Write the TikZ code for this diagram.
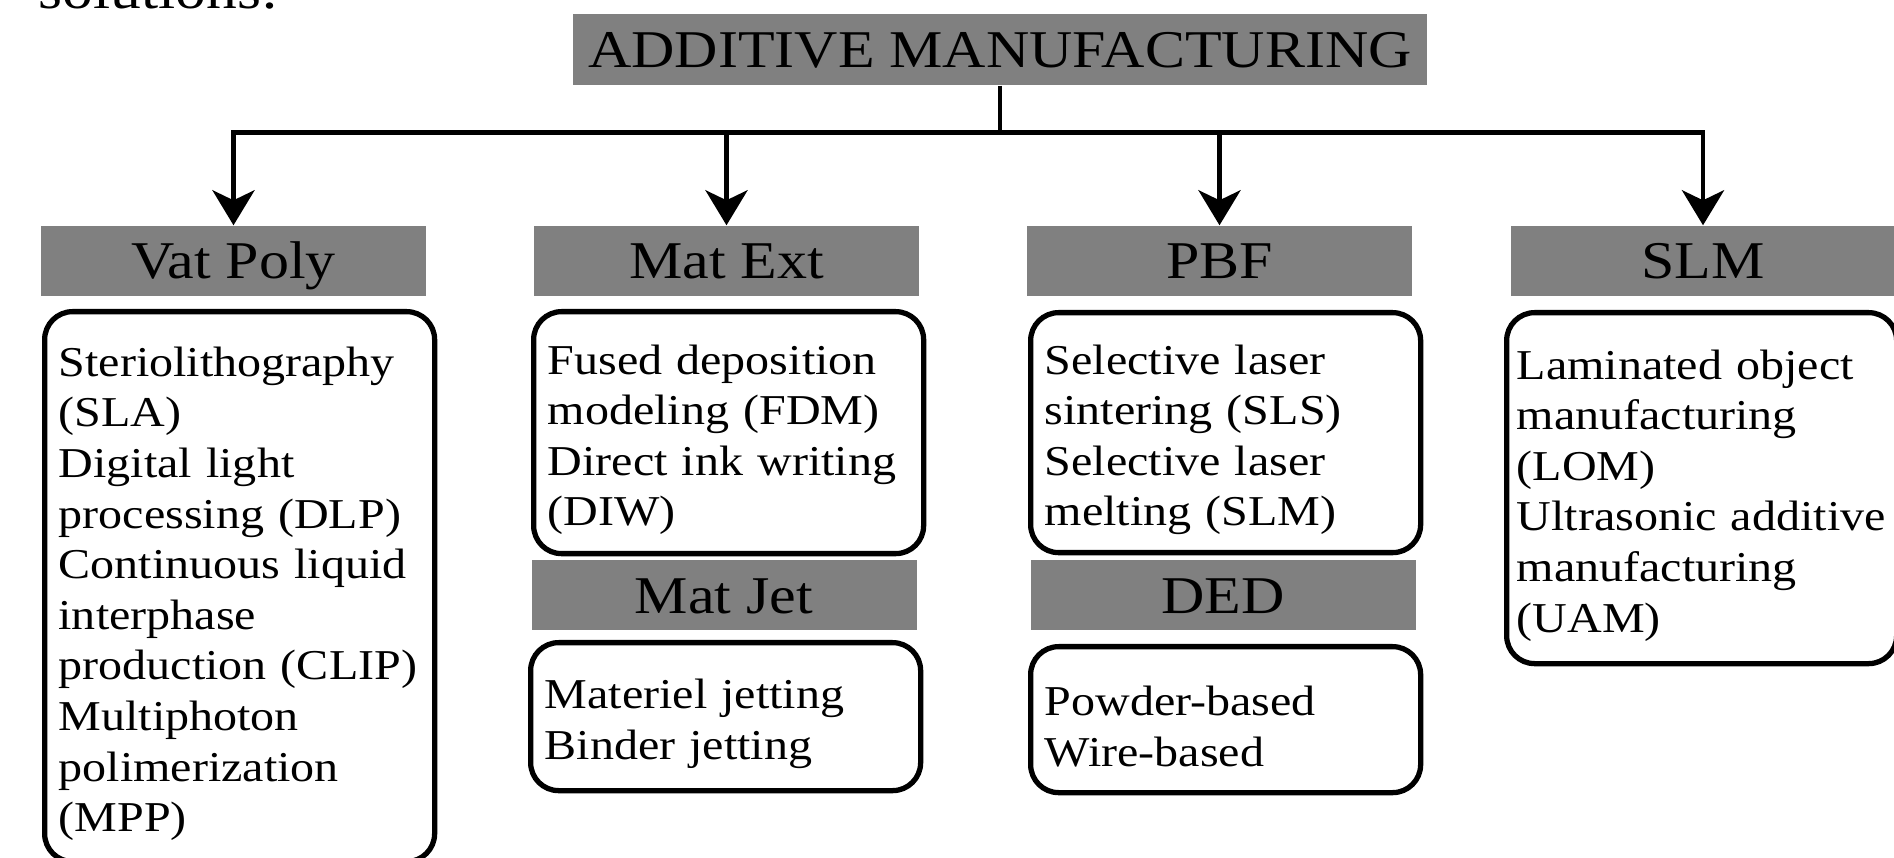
\documentclass[tikz,border=0pt]{standalone}
\usepackage{fontspec}
\setmainfont{Liberation Serif}[FakeStretch=1.13]
\usetikzlibrary{arrows.meta, positioning}

\begin{document}
\begin{tikzpicture}
	[line cap=butt,
	%Styles
	connector/.style={line width=1.4pt},
	arrow/.style={connector,-{Stealth[length=3.5mm,width=4.2mm,inset=1mm]}},
	head box/.style={fill=gray,minimum width=3.85cm,minimum height=0.70cm,inner sep=0pt,
		text height=10pt,text depth=0pt,font=\fontsize{15.1}{18}\selectfont},
	list box/.style={draw,line width=1.5pt,rounded corners=0.28cm,anchor=north west,align=left,
		text width=3.62cm,text height=12.5pt,inner xsep=0.14cm,inner ysep=0pt,
		font=\fontsize{12.1}{14.4}\selectfont}
	]

	%Page
	\useasboundingbox (0,0) rectangle (18.94,-8.58);

	%Text above the chart (cut off)
	\node[anchor=base west,inner sep=0pt,font=\fontsize{15.5}{18}\selectfont] (solutions) at (0.38,-0.09) {solutions:};

	%Headers
	\node[head box,minimum width=8.54cm,minimum height=0.71cm] (am) at (10.00,-0.495) {ADDITIVE MANUFACTURING};
	\node[head box] (vat) at (2.335,-2.61) {Vat Poly};
	\node[head box] (ext) at (7.265,-2.61) {Mat Ext};
	\node[head box] (pbf) at (12.195,-2.61) {PBF};
	\node[head box] (slm) at (17.03,-2.61) {SLM};
	\node[head box] (jet) at (7.24,-5.955) {Mat Jet};
	\node[head box] (ded) at (12.23,-5.955) {DED};

	%Lists
	\node[list box,minimum height=5.50cm] (vatlist) at (0.42,-3.09)
		{Steriolithography\\(SLA)\\Digital light\\processing (DLP)\\Continuous liquid\\interphase\\production (CLIP)\\Multiphoton\\polimerization\\(MPP)};
	\node[list box,minimum height=2.42cm] (extlist) at (5.31,-3.09)
		{Fused deposition\\modeling (FDM)\\Direct ink writing\\(DIW)};
	\node[list box,minimum height=1.48cm] (jetlist) at (5.28,-6.40)
		{Materiel jetting\\Binder jetting};
	\node[list box,minimum height=2.40cm] (pbflist) at (10.28,-3.10)
		{Selective laser\\sintering (SLS)\\Selective laser\\melting (SLM)};
	\node[list box,minimum height=1.46cm] (dedlist) at (10.28,-6.44)
		{Powder-based\\Wire-based};
	\node[list box,minimum height=3.51cm,text width=3.70cm,inner xsep=0.10cm] (slmlist) at (15.04,-3.10)
		{Laminated object\\manufacturing\\(LOM)\\Ultrasonic additive\\manufacturing\\(UAM)};

	%Connectors
	\path (am.south) ++(0,-0.47) coordinate (hub);
	\draw[connector] (am.south) -- (hub);
	\draw[arrow] (hub) -| (vat.north);
	\draw[arrow] (hub) -| (slm.north);
	\draw[arrow] (ext.north |- hub) -- (ext.north);
	\draw[arrow] (pbf.north |- hub) -- (pbf.north);

\end{tikzpicture}
\end{document}
